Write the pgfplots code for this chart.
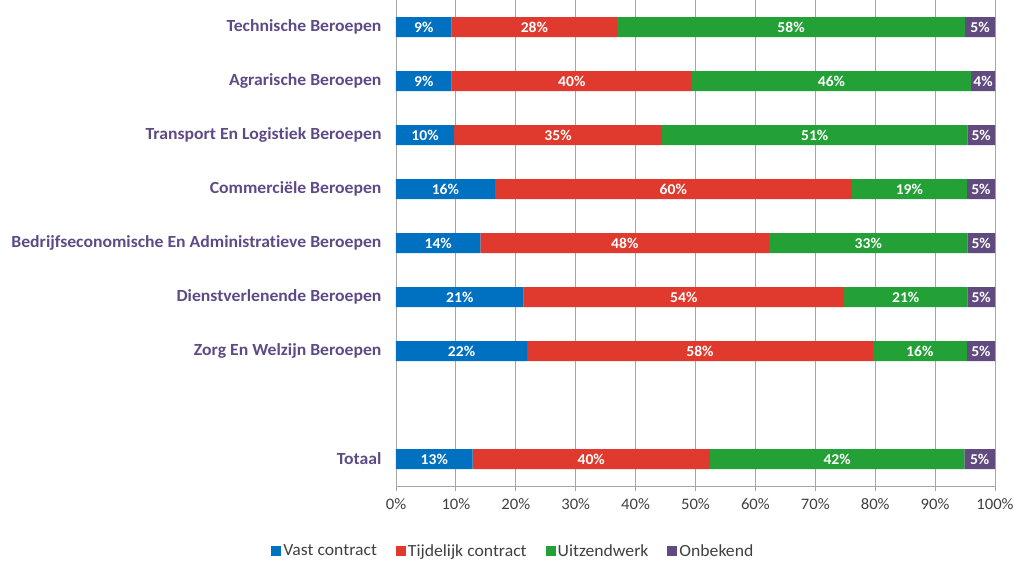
\documentclass[border=0pt]{standalone}
\usepackage{pgfplots}
\usepackage{pgfplotstable}
\pgfplotsset{compat=1.18}
\usepackage{fontspec}
\setmainfont{Carlito}[Ligatures=NoCommon, FakeStretch=1.04]
\definecolor{cblue}{HTML}{0070C0}
\definecolor{cred}{HTML}{E03A2F}
\definecolor{cgreen}{HTML}{23A036}
\definecolor{cpurple}{HTML}{604A7E}
\definecolor{labpurple}{HTML}{5E4A86}
\definecolor{gridgray}{HTML}{A6A6A6}
\definecolor{ticktext}{HTML}{404040}

\pgfplotstableread{
y  v   lab
8  9.3  9
7  9.3  9
6  9.7  10
5  16.5 16
4  14.1 14
3  21.3 21
2  21.9 22
0  12.8 13
}\vast
\pgfplotstableread{
y  v   lab
8  27.6 28
7  40.1 40
6  34.7 35
5  59.6 60
4  48.2 48
3  53.5 54
2  57.7 58
0  39.6 40
}\tijdelijk
\pgfplotstableread{
y  v   lab
8  58.1 58
7  46.6 46
6  51.0 51
5  19.2 19
4  33.1 33
3  20.6 21
2  15.7 16
0  42.5 42
}\uitzend
\pgfplotstableread{
y  v   lab
8  5.0 5
7  4.0 4
6  4.6 5
5  4.7 5
4  4.6 5
3  4.6 5
2  4.7 5
0  5.1 5
}\onbekend

\begin{document}
\begin{tikzpicture}
\useasboundingbox (-396pt,-74pt) rectangle (618pt,486pt);
\begin{axis}[
  at={(0,0)}, anchor=south west,
  scale only axis,
  width=599pt, height=486pt,
  xbar stacked,
  bar width=20pt,
  xmin=0, xmax=100,
  ymin=-0.5, ymax=8.5,
  axis x line*=bottom,
  axis y line*=left,
  axis line style={gridgray, line width=0.8pt},
  xtick={0,10,...,100},
  xticklabels={0\%,10\%,20\%,30\%,40\%,50\%,60\%,70\%,80\%,90\%,100\%},
  xticklabel style={font=\fontsize{16}{16}\selectfont, text=ticktext, yshift=-4pt},
  xmajorgrids,
  major grid style={gridgray, line width=0.8pt},
  tick align=outside,
  major tick length=5pt,
  minor tick length=5pt,
  tick style={gridgray, line width=0.8pt},
  ytick={8,7,6,5,4,3,2,0},
  yticklabels={Technische Beroepen, Agrarische Beroepen, Transport En Logistiek Beroepen, Commerciële Beroepen, Bedrijfseconomische En Administratieve Beroepen, Dienstverlenende Beroepen, Zorg En Welzijn Beroepen, Totaal},
  yticklabel style={font=\bfseries\fontsize{17}{17}\selectfont, text=labpurple, xshift=-6pt},
  ytick style={draw=none},
  minor ytick={-0.5,0.5,...,8.5},
  minor tick style={gridgray, line width=0.8pt},
  point meta=explicit symbolic,
  nodes near coords={\pgfplotspointmeta\%},
  every node near coord/.append style={font=\bfseries\fontsize{15}{15}\selectfont, text=white},
  legend columns=4,
  legend style={at={(0.196,-0.134)}, anchor=center, draw=none, font=\fontsize{17}{17}\selectfont, text=ticktext,
    /tikz/every even column/.append style={column sep=17pt}},
  legend image code/.code={\fill[#1] (0pt,-5pt) rectangle (10pt,5pt);},
  clip=false,
]
\addplot[fill=cblue, draw=none] table[x=v, y=y, meta=lab] {\vast};
\addplot[fill=cred, draw=none] table[x=v, y=y, meta=lab] {\tijdelijk};
\addplot[fill=cgreen, draw=none] table[x=v, y=y, meta=lab] {\uitzend};
\addplot[fill=cpurple, draw=none] table[x=v, y=y, meta=lab] {\onbekend};
\legend{Vast contract, Tijdelijk contract, Uitzendwerk, Onbekend}
\end{axis}
\end{tikzpicture}
\end{document}
